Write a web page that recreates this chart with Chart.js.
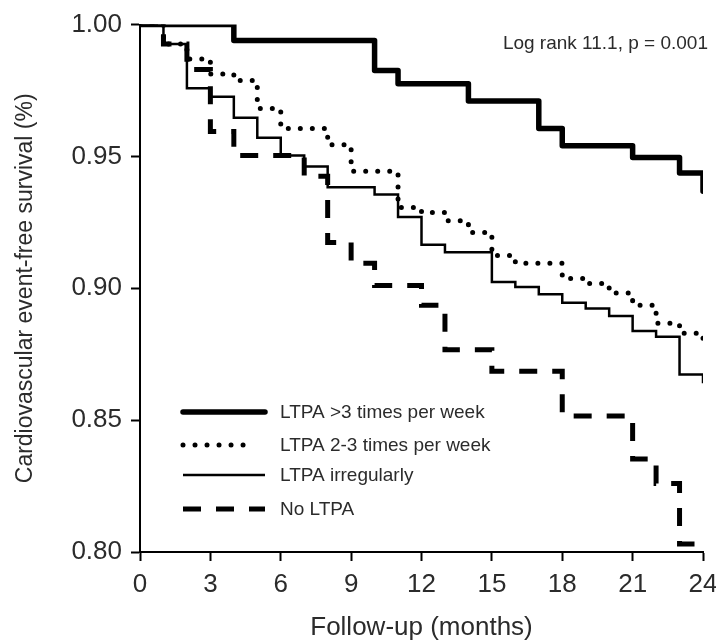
<!DOCTYPE html>
<html>
<head>
<meta charset="utf-8">
<title>Cardiovascular event-free survival by LTPA</title>
<script src="https://cdn.jsdelivr.net/npm/chart.js@4/dist/chart.umd.min.js"></script>
<style>
  html, body { margin: 0; padding: 0; background: #fff; }
  #wrap { width: 716px; height: 641px; position: relative; }
</style>
</head>
<body>
<div id="wrap"><canvas id="km-chart"></canvas></div>
<script>
// Kaplan-Meier steps (month of drop, survival after drop)
const seriesLabels = ["LTPA >3 times per week", "LTPA 2-3 times per week", "LTPA irregularly", "No LTPA"];

const monthsHigh = [0, 4, 10, 11, 14, 17, 18, 21, 23, 24];
const survHigh   = [1.0, 0.994, 0.9826, 0.9776, 0.971, 0.9606, 0.9541, 0.9496, 0.9437, 0.9368];

const monthsMid = [0, 1, 2, 3, 4, 5, 6, 8, 9, 11, 12, 13, 14, 15, 16, 18, 19, 20, 21, 22, 23, 24];
const survMid   = [1.0, 0.9926, 0.987, 0.9813, 0.9788, 0.9682, 0.9606, 0.9544, 0.9444, 0.9306, 0.9287, 0.9256, 0.9212, 0.9124, 0.9095, 0.9037, 0.9018, 0.8982, 0.8936, 0.8867, 0.883, 0.8805];

const monthsIrreg = [0, 1, 2, 3, 4, 5, 6, 7, 8, 10, 11, 12, 13, 15, 16, 17, 18, 19, 20, 21, 22, 23, 24];
const survIrreg   = [1.0, 0.9926, 0.9759, 0.9726, 0.9647, 0.9571, 0.9504, 0.9462, 0.9383, 0.9356, 0.927, 0.9165, 0.9137, 0.9024, 0.9005, 0.8977, 0.8945, 0.8923, 0.8895, 0.8838, 0.8816, 0.8673, 0.864];

const monthsNone = [0, 1, 2, 3, 4, 7, 8, 9, 10, 12, 13, 15, 18, 21, 22, 23, 24];
const survNone   = [1.0, 0.9926, 0.983, 0.9595, 0.9504, 0.9425, 0.9174, 0.9095, 0.9011, 0.8936, 0.8767, 0.8685, 0.8516, 0.8353, 0.826, 0.803, 0.803];

const xTicks = [0, 3, 6, 9, 12, 15, 18, 21, 24];
const yTicks = [0.80, 0.85, 0.90, 0.95, 1.00];

const annotationText = "Log rank 11.1, p = 0.001";

const FONT = "'Liberation Sans', Arial, Helvetica, sans-serif";
const TEXT = "#2b2b2b";

function toPoints(xs, ys) {
  return xs.map((x, i) => ({ x: x, y: ys[i] }));
}

// in-plot legend, drawn with each dataset's own line style
const kmLegend = {
  id: "kmLegend",
  afterDatasetsDraw(chart) {
    const { ctx, chartArea } = chart;
    const x0 = chartArea.left + 43;
    const x1 = chartArea.left + 125;
    const rows = [412, 445, 475, 509];
    ctx.save();
    chart.data.datasets.forEach((ds, i) => {
      const y = rows[i];
      ctx.beginPath();
      ctx.lineWidth = ds.borderWidth;
      ctx.strokeStyle = ds.borderColor;
      ctx.lineCap = ds.borderCapStyle || "butt";
      ctx.setLineDash(ds.borderDash || []);
      ctx.moveTo(x0, y);
      ctx.lineTo(ds.legendEnd ? chartArea.left + ds.legendEnd : x1, y);
      ctx.stroke();
      ctx.setLineDash([]);
      ctx.fillStyle = TEXT;
      ctx.font = "19px " + FONT;
      ctx.textBaseline = "middle";
      ctx.textAlign = "left";
      ctx.fillText(ds.label, chartArea.left + 140, y + 1);
    });
    ctx.restore();
  }
};

const logRankNote = {
  id: "logRankNote",
  afterDraw(chart) {
    const { ctx, chartArea } = chart;
    ctx.save();
    ctx.fillStyle = TEXT;
    ctx.font = "19px " + FONT;
    ctx.textAlign = "right";
    ctx.textBaseline = "middle";
    ctx.fillText(annotationText, chartArea.right + 5, chartArea.top + 19);
    ctx.restore();
  }
};

const ctx = document.getElementById("km-chart").getContext("2d");
new Chart(ctx, {
  type: "line",
  data: {
    datasets: [
      {
        label: seriesLabels[0],
        data: toPoints(monthsHigh, survHigh),
        borderColor: "#000",
        borderWidth: 5.5,
        borderCapStyle: "round",
        borderJoinStyle: "round",
        stepped: "before",
        pointRadius: 0,
        fill: false
      },
      {
        label: seriesLabels[1],
        data: toPoints(monthsMid, survMid),
        borderColor: "#000",
        borderWidth: 5,
        borderDash: [0.01, 12],
        borderCapStyle: "round",
        stepped: "before",
        pointRadius: 0,
        fill: false,
        legendEnd: 113
      },
      {
        label: seriesLabels[2],
        data: toPoints(monthsIrreg, survIrreg),
        borderColor: "#000",
        borderWidth: 2.5,
        stepped: "before",
        pointRadius: 0,
        fill: false
      },
      {
        label: seriesLabels[3],
        data: toPoints(monthsNone, survNone),
        borderColor: "#000",
        borderWidth: 5,
        borderDash: [18, 15],
        borderCapStyle: "butt",
        stepped: "before",
        pointRadius: 0,
        fill: false
      }
    ]
  },
  options: {
    responsive: true,
    maintainAspectRatio: false,
    animation: false,
    layout: { padding: { top: 22, right: 13, left: 0, bottom: 0 } },
    plugins: {
      legend: { display: false },
      tooltip: { enabled: false }
    },
    scales: {
      x: {
        type: "linear",
        min: 0,
        max: 24,
        afterBuildTicks: (scale) => { scale.ticks = xTicks.map(v => ({ value: v })); },
        afterFit: (scale) => { scale.height = 89; scale.paddingRight = 0; scale.paddingLeft = 0; },
        border: { display: true, color: "#000", width: 2 },
        grid: { drawOnChartArea: false, drawTicks: true, tickLength: 9, tickColor: "#000", tickWidth: 2 },
        ticks: { color: TEXT, font: { family: FONT, size: 26 }, padding: 8, maxRotation: 0 },
        title: {
          display: true,
          text: "Follow-up (months)",
          color: TEXT,
          font: { family: FONT, size: 26, lineHeight: 1 },
          padding: { top: 0, bottom: 0 }
        }
      },
      y: {
        min: 0.8,
        max: 1.0,
        afterBuildTicks: (scale) => { scale.ticks = yTicks.map(v => ({ value: v })); },
        afterFit: (scale) => { scale.width = 140; },
        border: { display: true, color: "#000", width: 2 },
        grid: { drawOnChartArea: false, drawTicks: true, tickLength: 9, tickColor: "#000", tickWidth: 2 },
        ticks: {
          color: TEXT,
          font: { family: FONT, size: 26 },
          padding: 9,
          callback: (v) => Number(v).toFixed(2)
        },
        title: {
          display: true,
          text: "Cardiovascular event-free survival (%)",
          color: TEXT,
          font: { family: FONT, size: 23 },
          padding: { top: 12, bottom: 0 }
        }
      }
    }
  },
  plugins: [kmLegend, logRankNote]
});
</script>
</body>
</html>
